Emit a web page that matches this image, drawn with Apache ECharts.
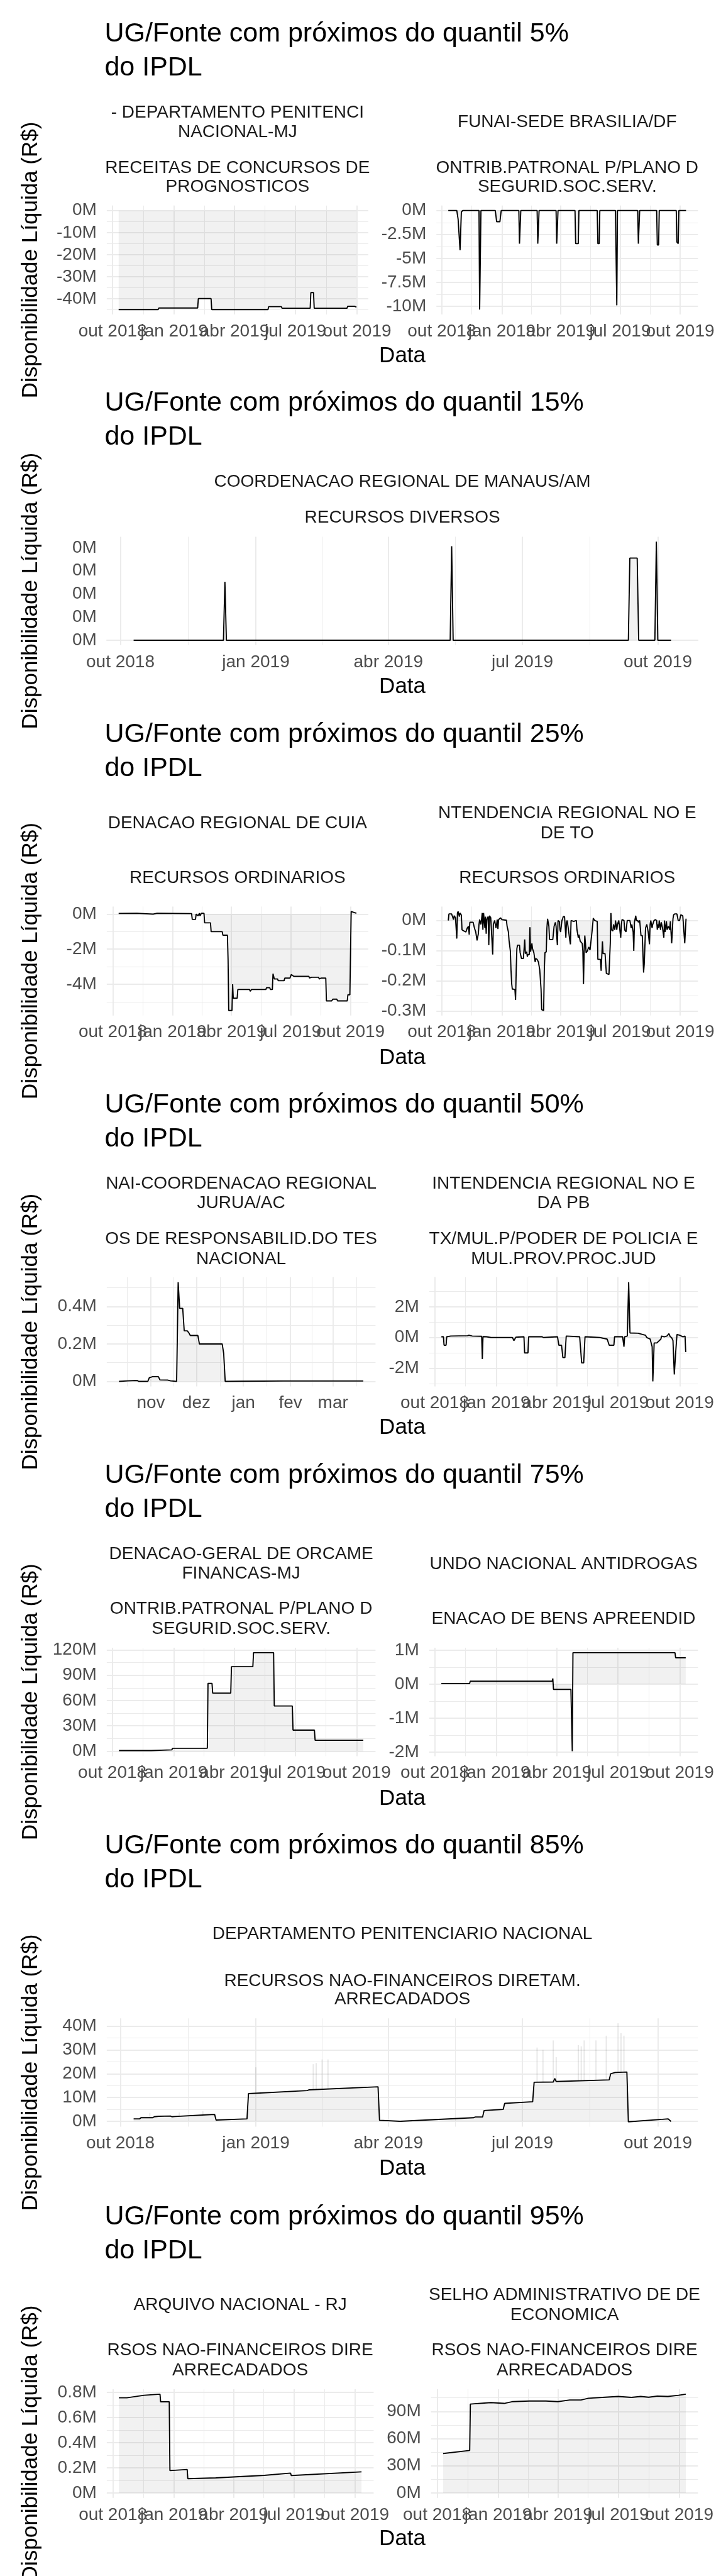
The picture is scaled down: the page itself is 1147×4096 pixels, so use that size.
<!DOCTYPE html>
<html><head><meta charset="utf-8">
<script src="https://cdn.jsdelivr.net/npm/echarts@6/dist/echarts.min.js"></script>
<style>html,body{margin:0;padding:0;background:#fff}#c{width:1147px;height:4096px}</style>
</head><body><div id="c"></div>
<script>
// ================= DATA =================
// x values are days counted from 2018-10-01 (day 0); y values are R$ millions.
const DAY0 = '2018-10-01';
const QUARTER_TICK_DAYS = [0, 92, 182, 273, 365];
const QUARTER_TICK_LABELS = ['out 2018', 'jan 2019', 'abr 2019', 'jul 2019', 'out 2019'];
const MONTH_TICK_DAYS = [0, 31, 61, 92, 123, 151, 182];
const MONTH_TICK_LABELS = ['out', 'nov', 'dez', 'jan', 'fev', 'mar', 'abr'];

const TITLES = [
  'UG/Fonte com próximos do quantil 5%', 'UG/Fonte com próximos do quantil 15%',
  'UG/Fonte com próximos do quantil 25%', 'UG/Fonte com próximos do quantil 50%',
  'UG/Fonte com próximos do quantil 75%', 'UG/Fonte com próximos do quantil 85%',
  'UG/Fonte com próximos do quantil 95%'];
const SUBTITLE = 'do IPDL';
const X_TITLE = 'Data';
const Y_TITLE = 'Disponibilidade Líquida (R$)';

// quantil 5%
const P1L = [[9,-44.9],[68,-44.9],[69,-44.2],[127,-44.2],[128,-39.9],[147,-39.9],[148,-44.9],[232,-44.9],[233,-43.6],[252,-43.6],[253,-44.3],[295,-44.3],[296,-37.2],[300,-37.2],[301,-44.3],[350,-44.3],[351,-43.4],[361,-43.4],[362,-43.8],[364,-43.8]];
const P1L_Y_TICKS = [-40,-30,-20,-10,0];
const P1L_Y_LABELS = ['-40M','-30M','-20M','-10M','0M'];
const P1R = [[10,0],[23,0],[25,-0.9],[28,-4.15],[30,-0.15],[32,0],[57,0],[58,-10.35],[60,0],[82,0],[84,-1.17],[89,-1.17],[91,0],[118,0],[119,-3.46],[120,-3.46],[121,0],[146,0],[147,-3.46],[148,-3.46],[149,0],[175,0],[176,-3.46],[177,-3.46],[178,0],[204,0],[205,-3.46],[209,-3.46],[210,0],[238,0],[239,-3.46],[241,-3.46],[242,0],[266,0],[267,-5.2],[268,-9.9],[269,0],[300,0],[301,-3.46],[302,-3.46],[303,0],[329,0],[330,-3.6],[332,-3.6],[333,0],[359,0],[360,-3.3],[362,-3.46],[363,0],[374,0]];
const P1R_Y_TICKS = [-10,-7.5,-5,-2.5,0];
const P1R_Y_LABELS = ['-10M','-7.5M','-5M','-2.5M','0M'];
// quantil 15%
const P2 = [[9,0],[70,0],[71,0.00253],[72,0],[224,0],[225,0.00406],[226,0],[345,0],[346,0.00355],[351,0.00355],[352,0],[363,0],[364,0.00426],[365,0],[374,0]];
const P2_Y_TICKS = [0,0.001,0.002,0.003,0.004];
const P2_Y_LABELS = ['0M','0M','0M','0M','0M'];
// quantil 25%
const P3L = [[9,0.04],[37,0.05],[62,0.0],[68,0.05],[121,0.03],[122,-0.3],[127,-0.3],[128,0.0],[131,-0.1],[133,0.05],[134,-0.1],[136,0.05],[140,0.05],[141,-0.5],[150,-0.5],[151,-1.0],[168,-1.0],[169,-1.2],[176,-1.2],[177,-2.6],[178,-5.5],[183,-5.5],[184,-4.0],[185,-4.8],[191,-4.8],[192,-4.3],[210,-4.3],[211,-4.4],[213,-4.3],[235,-4.3],[236,-4.2],[241,-4.2],[242,-4.3],[245,-4.3],[246,-3.4],[248,-3.7],[253,-3.7],[254,-3.8],[263,-3.8],[264,-3.65],[272,-3.65],[274,-3.45],[278,-3.55],[301,-3.55],[302,-3.65],[305,-3.6],[316,-3.6],[317,-3.7],[320,-3.65],[327,-3.65],[328,-4.95],[336,-4.95],[338,-4.85],[344,-4.85],[345,-4.95],[360,-4.95],[361,-4.6],[364,-4.6],[366,0.15],[374,0.05]];
const P3L_Y_TICKS = [-4,-2,0];
const P3L_Y_LABELS = ['-4M','-2M','0M'];
const P3R = [[10,0],[11,0.022],[15,0.022],[16,0.016],[18,0.003],[19,0.016],[21,0.009],[23,-0.060],[24,0.025],[25,0.030],[27,0.013],[28,0.025],[30,0.018],[31,-0.031],[34,-0.035],[35,-0.031],[37,-0.038],[39,-0.025],[41,-0.019],[42,-0.047],[43,-0.006],[48,-0.006],[50,-0.025],[52,-0.038],[54,-0.066],[55,-0.066],[56,-0.044],[57,-0.013],[58,0.003],[60,-0.013],[61,0.006],[62,0.025],[63,-0.031],[64,0.025],[66,-0.025],[67,0.013],[68,-0.044],[69,0.003],[71,0.013],[72,-0.082],[73,0.016],[75,0.009],[76,0.013],[78,-0.113],[79,-0.013],[81,0],[83,-0.025],[85,0.003],[86,-0.028],[87,0.003],[90,0.009],[92,0.003],[99,0.001],[100,-0.019],[102,-0.038],[103,-0.066],[105,-0.101],[106,-0.164],[107,-0.209],[108,-0.228],[110,-0.228],[112,-0.230],[113,-0.264],[114,-0.164],[115,-0.094],[116,-0.082],[119,-0.082],[120,-0.107],[122,-0.126],[125,-0.126],[126,-0.129],[127,-0.063],[128,-0.110],[130,-0.104],[131,-0.120],[132,-0.113],[134,-0.113],[135,-0.022],[136,-0.104],[138,-0.076],[139,-0.094],[141,-0.107],[143,-0.138],[144,-0.126],[146,-0.129],[148,-0.138],[150,-0.164],[152,-0.228],[153,-0.296],[156,-0.299],[157,-0.164],[158,-0.107],[160,-0.104],[161,-0.025],[162,0.006],[164,-0.019],[165,-0.063],[170,-0.063],[172,-0.019],[174,-0.006],[175,-0.019],[177,-0.082],[178,0],[180,-0.003],[181,-0.031],[182,-0.038],[184,0],[185,0.006],[186,0.013],[188,0.013],[190,-0.057],[191,-0.006],[192,0],[194,-0.031],[196,-0.066],[197,-0.079],[198,0],[202,-0.003],[206,0],[207,-0.031],[209,-0.057],[210,-0.047],[212,-0.069],[213,-0.072],[215,-0.076],[216,-0.101],[217,-0.211],[218,-0.101],[219,-0.050],[220,-0.076],[221,-0.107],[223,-0.101],[225,-0.088],[227,-0.098],[228,-0.094],[230,-0.038],[232,0.008],[234,0],[238,-0.003],[239,-0.129],[243,-0.129],[244,-0.167],[246,-0.069],[247,-0.110],[250,-0.110],[252,-0.176],[256,-0.179],[258,-0.076],[259,0.025],[260,-0.031],[262,-0.035],[263,-0.013],[265,-0.031],[266,0],[268,-0.031],[269,-0.013],[271,0],[272,0.003],[274,-0.057],[275,-0.013],[276,0.003],[279,0],[280,-0.031],[282,-0.038],[284,0],[288,0],[290,-0.025],[291,-0.013],[293,-0.038],[294,-0.101],[295,-0.006],[297,0.016],[298,0],[300,0],[301,-0.006],[303,0],[305,-0.050],[307,-0.050],[309,-0.173],[310,-0.145],[312,-0.025],[314,-0.013],[316,-0.038],[318,-0.079],[319,-0.013],[320,0],[322,-0.025],[323,-0.013],[325,0],[327,0.003],[329,0],[330,-0.031],[331,-0.013],[332,-0.025],[333,0],[335,-0.031],[336,-0.006],[338,-0.025],[340,-0.057],[341,0],[342,-0.038],[344,-0.003],[345,-0.031],[347,-0.019],[349,-0.031],[350,-0.003],[352,-0.076],[354,0.006],[355,0.019],[357,0.022],[360,0.022],[361,0.019],[362,0],[364,0],[366,0.019],[369,0.016],[370,0.013],[372,-0.076],[374,0.006]];
const P3R_Y_TICKS = [-0.3,-0.2,-0.1,0];
const P3R_Y_LABELS = ['-0.3M','-0.2M','-0.1M','0M'];
// quantil 50%
const P4L = [[10,0],[16,0.003],[22,0.005],[23,0],[29,0],[30,0.02],[32,0.025],[36,0.025],[37,0.008],[42,0.007],[44,0.003],[48,0],[49,0.53],[50,0.39],[52,0.39],[53,0.27],[55,0.27],[56,0.26],[57,0.245],[62,0.245],[63,0.2],[78,0.2],[79,0.15],[80,0],[91,0.001],[118,0.002],[171,0.002]];
const P4L_Y_TICKS = [0,0.2,0.4];
const P4L_Y_LABELS = ['0M','0.2M','0.4M'];
const P4R = [[10,0.05],[13,0.05],[14,-0.5],[17,-0.5],[18,0.05],[24,0.1],[49,0.12],[51,0.15],[56,0.1],[70,0.08],[71,-1.4],[72,0.06],[77,0.05],[84,0],[116,0],[118,-0.2],[121,0.02],[133,0.05],[134,-1.0],[139,-1.0],[140,0.05],[160,0.05],[162,0],[183,0.05],[185,-0.5],[189,-0.5],[191,-1.3],[194,-1.3],[196,0.1],[216,0.05],[219,-1.65],[222,-1.65],[224,0.05],[246,0],[257,-0.1],[260,-0.5],[267,-0.5],[268,0.05],[280,0.05],[282,-0.6],[283,0.05],[287,0.1],[289,3.6],[291,0.3],[303,0.28],[314,0.15],[316,0],[321,-0.1],[324,-0.6],[325,-2.85],[327,-0.35],[331,-0.35],[337,-0.1],[338,0.1],[342,0.05],[346,0.1],[349,0.25],[351,0.05],[353,0],[355,-0.2],[357,-2.4],[359,-1.0],[361,0.2],[365,0.15],[370,0.05],[373,0.1],[374,-0.95]];
const P4R_Y_TICKS = [-2,0,2];
const P4R_Y_LABELS = ['-2M','0M','2M'];
// quantil 75%
const P5L = [[10,0.8],[58,0.8],[59,1.6],[89,1.6],[90,3.5],[142,3.5],[143,80.2],[149,80.2],[150,68.8],[177,68.8],[178,100],[210,100],[211,116.6],[241,116.6],[242,53.5],[269,53.5],[270,25],[302,25],[303,13],[375,13]];
const P5L_Y_TICKS = [0,30,60,90,120];
const P5L_Y_LABELS = ['0M','30M','60M','90M','120M'];
const P5R = [[10,0.02],[52,0.02],[53,0.09],[175,0.09],[176,0.17],[177,-0.15],[203,-0.15],[205,-1.97],[206,0.93],[358,0.93],[359,0.78],[374,0.78]];
const P5R_Y_TICKS = [-2,-1,0,1];
const P5R_Y_LABELS = ['-2M','-1M','0M','1M'];
// quantil 85%
const P6 = [[9,1.0],[13,1.0],[14,1.5],[22,1.5],[23,1.9],[26,2.1],[34,2.2],[35,1.9],[37,2.0],[64,2.9],[65,0.5],[86,1.0],[87,11.6],[127,12.9],[128,13.2],[175,14.5],[176,0.4],[190,0.0],[240,1.5],[241,1.8],[246,1.8],[247,4.5],[260,5.0],[261,7.5],[280,8.2],[281,16.4],[294,16.5],[295,18.0],[296,16.7],[332,17.4],[333,20.0],[336,20.5],[344,20.7],[345,-0.2],[368,0.8],[372,1.0],[374,-0.1]];
// faint area spikes: [day, from, to]
const P6_SPIKES = [[20,1.6,3.5],[40,2.1,3.7],[56,2.6,4.2],[92,11.7,22.7],[131,13.3,24],[133,13.3,24.5],[137,13.5,26],[141,13.6,26],[283,16.4,31],[287,16.4,30],[294,16.5,34],[296,16.7,27],[311,17.0,32],[313,17.0,31.5],[315,17.1,34],[323,17.2,34],[330,17.4,36],[338,20.5,41.2],[340,20.6,37],[342,20.6,36]];
const P6_Y_TICKS = [0,10,20,30,40];
const P6_Y_LABELS = ['0M','10M','20M','30M','40M'];
// quantil 95%
const P7L = [[9,0.757],[21,0.757],[22,0.767],[47,0.777],[71,0.786],[72,0.725],[85,0.725],[86,0.178],[112,0.187],[113,0.114],[155,0.12],[191,0.13],[228,0.14],[268,0.158],[269,0.139],[375,0.168]];
const P7L_Y_TICKS = [0,0.2,0.4,0.6,0.8];
const P7L_Y_LABELS = ['0M','0.2M','0.4M','0.6M','0.8M'];
const P7R = [[9,43.5],[49,46.9],[50,98.1],[81,99.7],[101,98.8],[114,100.8],[139,101.5],[164,101.5],[182,100.8],[200,102.6],[217,102.6],[228,104.5],[253,105.6],[273,106.5],[293,105.4],[307,106.5],[319,105.6],[332,106.9],[348,106.5],[364,107.8],[375,109]];
const P7R_Y_TICKS = [0,30,60,90];
const P7R_Y_LABELS = ['0M','30M','60M','90M'];

// ================= LAYOUT (reference px, scaled by S) =================
const S = 1147 / 1344;
const FONT = "'Liberation Sans', Arial, Helvetica, sans-serif";
const SECTIONS = [
  {titleY: 80.4, y0: 383, y1: 586, dataY: 678},
  {titleY: 769, y0: 1000, y1: 1202, dataY: 1294},
  {titleY: 1386.4, y0: 1689, y1: 1892, dataY: 1985.7},
  {titleY: 2076, y0: 2379.6, y1: 2583, dataY: 2675},
  {titleY: 2766, y0: 3070, y1: 3272, dataY: 3366},
  {titleY: 3457, y0: 3760.5, y1: 3962.3, dataY: 4055},
  {titleY: 4148, y0: 4451.5, y1: 4654, dataY: 4745}
];
const Q = [QUARTER_TICK_DAYS, QUARTER_TICK_LABELS], M = [MONTH_TICK_DAYS, MONTH_TICK_LABELS];
const PANELS = [
  {sec:0, x0:199, x1:686.5, data:P1L, yt:[P1L_Y_TICKS,P1L_Y_LABELS], xt:Q, first:true,
   strips:[['- DEPARTAMENTO PENITENCI',221],['NACIONAL-MJ',258],['RECEITAS DE CONCURSOS DE',324],['PROGNOSTICOS',359.5]]},
  {sec:0, x0:813.5, x1:1301, data:P1R, yt:[P1R_Y_TICKS,P1R_Y_LABELS], xt:Q,
   strips:[['FUNAI-SEDE BRASILIA/DF',239.5],['ONTRIB.PATRONAL P/PLANO D',324],['SEGURID.SOC.SERV.',359.5]]},
  {sec:1, x0:199, x1:1301, data:P2, yt:[P2_Y_TICKS,P2_Y_LABELS], xt:Q, first:true,
   strips:[['COORDENACAO REGIONAL DE MANAUS/AM',909],['RECURSOS DIVERSOS',976]]},
  {sec:2, x0:199, x1:686.5, data:P3L, yt:[P3L_Y_TICKS,P3L_Y_LABELS], xt:Q, first:true,
   strips:[['DENACAO REGIONAL DE CUIA',1545.5],['RECURSOS ORDINARIOS',1648]]},
  {sec:2, x0:813.5, x1:1301, data:P3R, yt:[P3R_Y_TICKS,P3R_Y_LABELS], xt:Q,
   strips:[['NTENDENCIA REGIONAL NO E',1527],['DE TO',1564],['RECURSOS ORDINARIOS',1648]]},
  {sec:3, x0:199, x1:700, data:P4L, yt:[P4L_Y_TICKS,P4L_Y_LABELS], xt:M, first:true,
   strips:[['NAI-COORDENACAO REGIONAL',2216.5],['JURUA/AC',2253.5],['OS DE RESPONSABILID.DO TES',2320.5],['NACIONAL',2357]]},
  {sec:3, x0:800, x1:1301, data:P4R, yt:[P4R_Y_TICKS,P4R_Y_LABELS], xt:Q,
   strips:[['INTENDENCIA REGIONAL NO E',2216.5],['DA PB',2253.5],['TX/MUL.P/PODER DE POLICIA E',2320.5],['MUL.PROV.PROC.JUD',2357]]},
  {sec:4, x0:199, x1:700, data:P5L, yt:[P5L_Y_TICKS,P5L_Y_LABELS], xt:Q, first:true,
   strips:[['DENACAO-GERAL DE ORCAME',2907],['FINANCAS-MJ',2944],['ONTRIB.PATRONAL P/PLANO D',3009],['SEGURID.SOC.SERV.',3046]]},
  {sec:4, x0:800, x1:1301, data:P5R, yt:[P5R_Y_TICKS,P5R_Y_LABELS], xt:Q,
   strips:[['UNDO NACIONAL ANTIDROGAS',2925.5],['ENACAO DE BENS APREENDID',3027.5]]},
  {sec:5, x0:199, x1:1301, data:P6, spikes:P6_SPIKES, yt:[P6_Y_TICKS,P6_Y_LABELS], xt:Q, first:true,
   strips:[['DEPARTAMENTO PENITENCIARIO NACIONAL',3615.4],['RECURSOS NAO-FINANCEIROS DIRETAM.',3702.5],['ARRECADADOS',3737]]},
  {sec:6, x0:199, x1:696.5, data:P7L, yt:[P7L_Y_TICKS,P7L_Y_LABELS], xt:Q, first:true,
   strips:[['ARQUIVO NACIONAL - RJ',4306.5],['RSOS NAO-FINANCEIROS DIRE',4391],['ARRECADADOS',4427.5]]},
  {sec:6, x0:803.5, x1:1301, data:P7R, yt:[P7R_Y_TICKS,P7R_Y_LABELS], xt:Q,
   strips:[['SELHO ADMINISTRATIVO DE DE',4288],['ECONOMICA',4324.5],['RSOS NAO-FINANCEIROS DIRE',4391],['ARRECADADOS',4427.5]]}
];

// ================= BUILD =================
const GRID = '#ebebeb';
const grids = [], xAxes = [], yAxes = [], series = [], texts = [];

function txt(str, xFull, baselineFull, size, color, align) {
  texts.push({type: 'text', silent: true, z: 10, x: xFull * S, y: baselineFull * S - 0.3465 * size,
    style: {text: str, fontSize: size, fontFamily: FONT, fill: color, align: align || 'center', verticalAlign: 'middle'}});
}
// unmatched values (axis ends) get a blank label so that ECharts' first/last-label
// overlap check drops the blank instead of a real tick label
function tickLabel(ticks, labels, v) {
  for (let k = 0; k < ticks.length; k++) if (Math.abs(ticks[k] - v) <= 1e-9 + 1e-7 * Math.abs(ticks[k])) return labels[k];
  return ' ';
}
function minors(ticks, lo, hi) {
  const out = [];
  for (let k = 0; k < ticks.length - 1; k++) out.push((ticks[k] + ticks[k + 1]) / 2);
  if (ticks.length > 1) {
    out.push(ticks[0] - (ticks[1] - ticks[0]) / 2);
    const n = ticks.length;
    out.push(ticks[n - 1] + (ticks[n - 1] - ticks[n - 2]) / 2);
  }
  return out.filter(v => v > lo && v < hi);
}

SECTIONS.forEach((s, k) => {
  txt(TITLES[k], 195, s.titleY, 43, '#000', 'left');
  txt(SUBTITLE, 195, s.titleY + 63.4, 43, '#000', 'left');
  txt(X_TITLE, 750, s.dataY, 35, '#000', 'center');
});

PANELS.forEach((p, i) => {
  const sec = SECTIONS[p.sec];
  const days = p.data.map(d => d[0]);
  let vals = p.data.map(d => d[1]);
  if (p.spikes) vals = vals.concat(p.spikes.map(d => d[2]));
  const dmin = Math.min(...days), dmax = Math.max(...days);
  const xpad = (dmax - dmin) * 0.05, xmin = dmin - xpad, xmax = dmax + xpad;
  const vmin = Math.min(0, ...vals), vmax = Math.max(0, ...vals);
  const ypad = (vmax - vmin) * 0.05, ymin = vmin - ypad, ymax = vmax + ypad;

  const [xT, xL] = p.xt, [yT, yL] = p.yt;
  const xMaj = xT.filter(v => v >= xmin && v <= xmax), xMin = minors(xT, xmin, xmax);
  const yMaj = yT.filter(v => v >= ymin && v <= ymax), yMin = minors(yT, ymin, ymax);

  grids.push({left: p.x0 * S, top: sec.y0 * S, width: (p.x1 - p.x0) * S, height: (sec.y1 - sec.y0) * S,
    containLabel: false, outerBoundsMode: 'none'});
  xAxes.push({gridIndex: i, type: 'value', min: xmin, max: xmax,
    axisLine: {show: false, onZero: false}, axisTick: {show: false}, splitLine: {show: false}, minorSplitLine: {show: false},
    axisLabel: {customValues: [xmin].concat(xMaj, [xmax]), formatter: v => tickLabel(xT, xL, v), color: '#4d4d4d', fontSize: 28,
      fontFamily: FONT, margin: 13, hideOverlap: false}});
  const ya = {gridIndex: i, type: 'value', min: ymin, max: ymax,
    axisLine: {show: false, onZero: false}, axisTick: {show: false}, splitLine: {show: false}, minorSplitLine: {show: false},
    axisLabel: {customValues: yMaj, formatter: v => tickLabel(yT, yL, v), color: '#4d4d4d', fontSize: 28,
      fontFamily: FONT, margin: 16, hideOverlap: false}};
  if (p.first) {
    Object.assign(ya, {name: Y_TITLE, nameLocation: 'middle', nameRotate: 90, nameGap: 103, nameMoveOverlap: false,
      nameTextStyle: {fontSize: 35, color: '#000', fontFamily: FONT}});
  }
  yAxes.push(ya);

  const ml = [];
  yMin.forEach(v => ml.push({yAxis: v, lineStyle: {color: GRID, width: 1.0, type: 'solid'}}));
  xMin.forEach(v => ml.push({xAxis: v, lineStyle: {color: GRID, width: 1.0, type: 'solid'}}));
  yMaj.forEach(v => ml.push({yAxis: v, lineStyle: {color: GRID, width: 1.9, type: 'solid'}}));
  xMaj.forEach(v => ml.push({xAxis: v, lineStyle: {color: GRID, width: 1.9, type: 'solid'}}));

  if (p.spikes) {
    series.push({type: 'custom', xAxisIndex: i, yAxisIndex: i, z: 2, silent: true, data: p.spikes,
      encode: {x: 0, y: [1, 2]},
      renderItem: (params, api) => {
        const a = api.coord([api.value(0), api.value(1)]);
        const b = api.coord([api.value(0), api.value(2)]);
        return {type: 'line', shape: {x1: a[0], y1: a[1], x2: b[0], y2: b[1]},
          style: {stroke: 'rgba(0,0,0,0.09)', lineWidth: 2}};
      }});
  }
  series.push({type: 'line', xAxisIndex: i, yAxisIndex: i, data: p.data, symbol: 'none', showSymbol: false,
    z: 3, silent: true, lineStyle: {color: '#000', width: 1.9},
    areaStyle: {color: 'rgba(51,51,51,0.1)', origin: 0},
    markLine: {silent: true, z: 1, symbol: ['none', 'none'], label: {show: false}, animation: false,
      emphasis: {disabled: true}, data: ml}});

  p.strips.forEach(([t, b]) => txt(t, (p.x0 + p.x1) / 2, b, 28, '#1a1a1a', 'center'));
});

const chart = echarts.init(document.getElementById('c'), null, {renderer: 'canvas', width: 1147, height: 4096});
chart.setOption({
  backgroundColor: '#fff',
  animation: false,
  grid: grids, xAxis: xAxes, yAxis: yAxes, series: series,
  graphic: {elements: texts}
});
</script>
</body></html>
